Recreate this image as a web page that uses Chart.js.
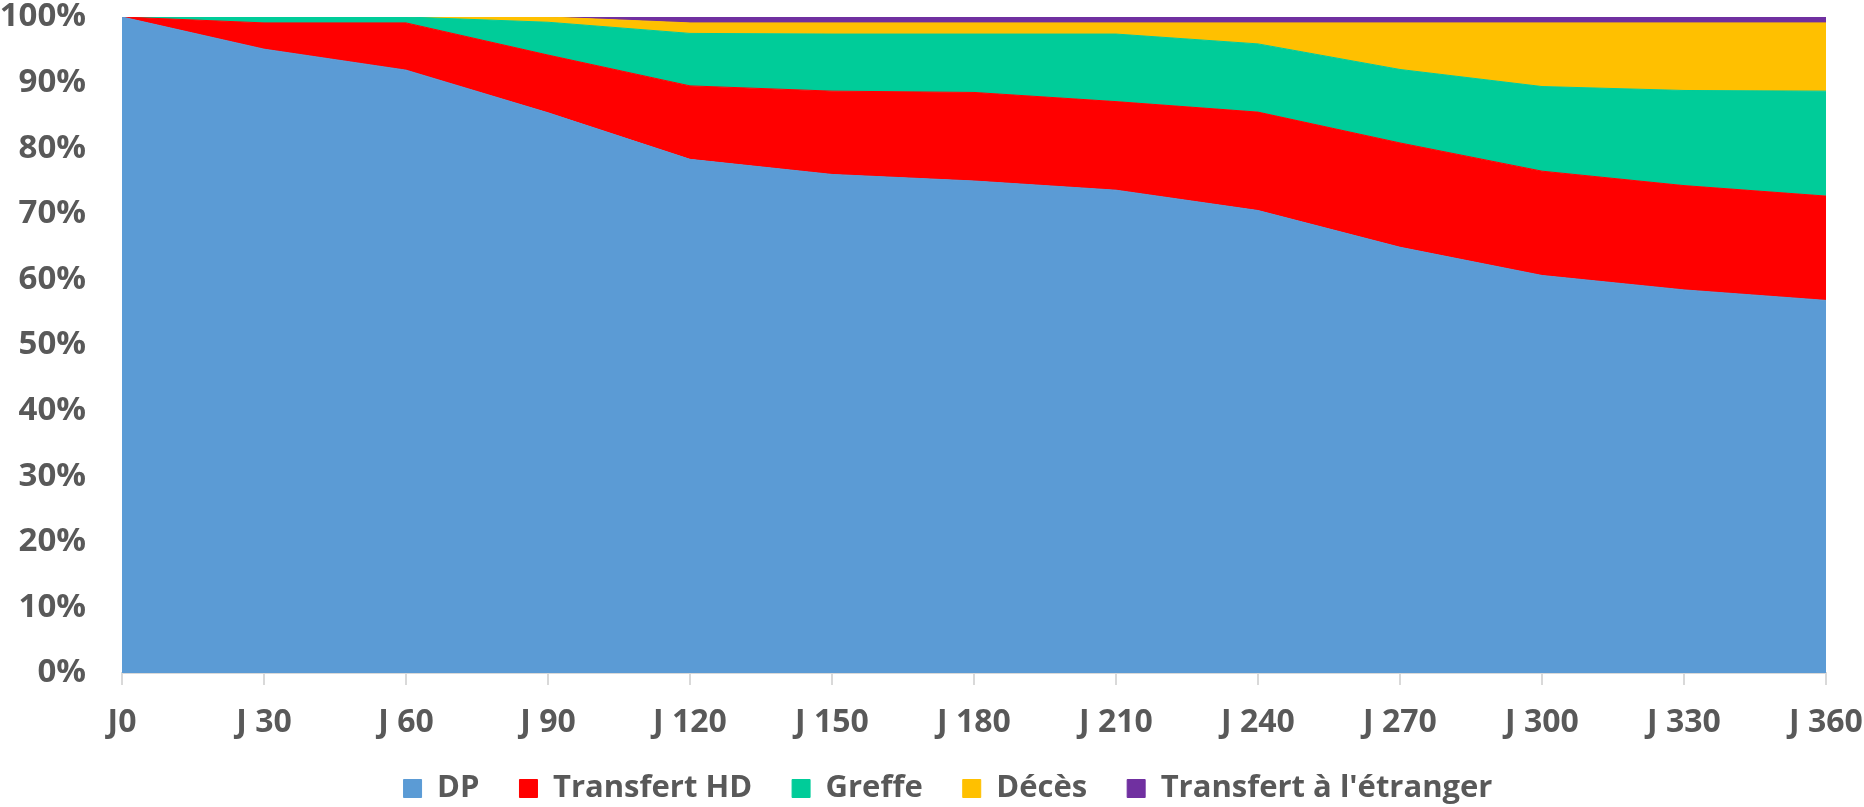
<!DOCTYPE html>
<html>
<head>
<meta charset="utf-8">
<script src="https://cdn.jsdelivr.net/npm/chart.js@4/dist/chart.umd.min.js"></script>
<style>
  html, body { margin: 0; padding: 0; background: #ffffff; }
  #wrap { width: 1864px; height: 807px; position: relative; }
</style>
</head>
<body>
<div id="wrap"><canvas id="c" width="1864" height="807"></canvas></div>
<script>
const categories = ['J0', 'J 30', 'J 60', 'J 90', 'J 120', 'J 150', 'J 180', 'J 210', 'J 240', 'J 270', 'J 300', 'J 330', 'J 360'];
const dp          = [100, 95.1, 91.9, 85.4, 78.3, 76.0, 75.0, 73.6, 70.5, 64.9, 60.6, 58.4, 56.8];
const transfertHD = [0,   4.0,  7.2,  8.8,  11.2, 12.7, 13.5, 13.5, 15.0, 15.9, 15.9, 15.9, 15.9];
const greffe      = [0,   0.9,  0.9,  5.0,  8.0,  8.7,  8.9,  10.3, 10.4, 11.2, 12.9, 14.5, 16.0];
const deces       = [0,   0,    0,    0.8,  1.6,  1.7,  1.7,  1.7,  3.2,  7.1,  9.7,  10.3, 10.4];
const etranger    = [0,   0,    0,    0,    0.9,  0.9,  0.9,  0.9,  0.9,  0.9,  0.9,  0.9,  0.9];
const yTicks = [0, 10, 20, 30, 40, 50, 60, 70, 80, 90, 100];

const FONT = "'Open Sans', 'Noto Sans', sans-serif";
const TXT = '#595959';

function ds(label, data, color, fill) {
  return {
    label, data,
    backgroundColor: color,
    borderColor: color,
    borderWidth: 1,
    pointRadius: 0,
    pointHoverRadius: 0,
    tension: 0,
    fill
  };
}

// nudge the legend block slightly left so it sits where the original's legend is
const legendShift = {
  id: 'legendShift',
  afterLayout(chart) {
    const l = chart.legend;
    if (l) { l.left -= 26; l.right -= 26; }
  }
};

new Chart(document.getElementById('c'), {
  type: 'line',
  data: {
    labels: categories,
    datasets: [
      ds('DP', dp, '#5B9BD5', 'origin'),
      ds('Transfert HD', transfertHD, '#FF0000', '-1'),
      ds('Greffe', greffe, '#00CC99', '-1'),
      ds('Décès', deces, '#FFC000', '-1'),
      ds("Transfert à l'étranger", etranger, '#7030A0', '-1')
    ]
  },
  plugins: [legendShift],
  options: {
    responsive: false,
    animation: false,
    layout: { padding: { top: 17, right: 38, left: 0, bottom: 0 } },
    plugins: {
      tooltip: { enabled: false },
      legend: {
        position: 'bottom',
        fullSize: false,
        maxHeight: 74,
        labels: {
          color: TXT,
          font: { family: FONT, size: 31, weight: 'bold' },
          boxWidth: 18,
          boxHeight: 18,
          padding: 40
        }
      }
    },
    scales: {
      x: {
        offset: false,
        grid: {
          display: true,
          drawOnChartArea: false,
          drawTicks: true,
          tickLength: 12,
          color: '#D9D9D9',
          lineWidth: 2
        },
        border: { display: true, color: '#D9D9D9', width: 2 },
        ticks: {
          color: TXT,
          font: { family: FONT, size: 32, weight: 'bold' },
          padding: 19,
          maxRotation: 0,
          autoSkip: false
        },
        afterFit: (s) => {
          s.paddingLeft = 0; s.paddingRight = 0; s.height = 60;
          s._computeLabelArea = () => undefined; // don't clip the "J" descenders
        }
      },
      y: {
        stacked: true,
        min: 0,
        max: 100,
        afterBuildTicks: (s) => { s.ticks = yTicks.map(v => ({ value: v })); },
        grid: { display: true, drawTicks: false, color: '#D9D9D9', lineWidth: 1 },
        border: { display: false },
        ticks: {
          color: TXT,
          font: { family: FONT, size: 33, weight: 'bold' },
          padding: 36,
          callback: (v) => v + '%'
        },
        afterFit: (s) => { s.width = 122; s.paddingTop = 0; s.paddingBottom = 0; }
      }
    }
  }
});
</script>
</body>
</html>
